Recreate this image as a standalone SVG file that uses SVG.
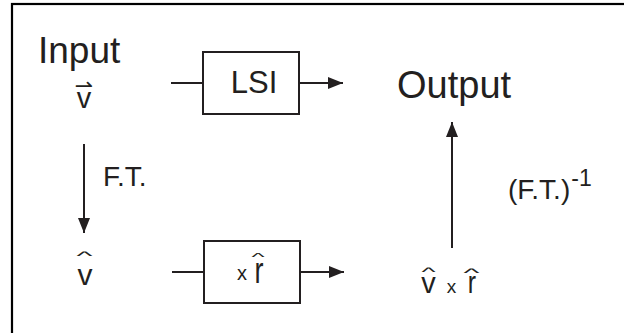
<svg xmlns="http://www.w3.org/2000/svg" width="624" height="333" viewBox="0 0 624 333">
  <style>
    .t { font-family: "Liberation Sans", Arial, Helvetica, sans-serif; fill: #231f20; }
    .box { fill: #ffffff; stroke: #231f20; stroke-width: 2; }
    .ln { stroke: #231f20; stroke-width: 2; fill: none; }
    .arr { stroke: #231f20; stroke-width: 2; fill: none; marker-end: url(#ah); }
  </style>
  <defs>
    <marker id="ah" markerUnits="userSpaceOnUse" markerWidth="16" markerHeight="12" refX="15" refY="6" orient="auto">
      <path d="M0,0 L15,6 L0,12 Z" fill="#231f20"/>
    </marker>
  </defs>
  <rect width="624" height="333" fill="#ffffff"/>
  <rect x="12" y="4" width="700" height="400" fill="none" stroke="#000000" stroke-width="2.2"/>

  <g id="input">
    <text class="t" x="38" y="63" font-size="37">Input</text>
    <text class="t" x="84" y="108" font-size="29" text-anchor="middle">v</text>
    <text x="84" y="93" font-size="22" text-anchor="middle" font-family="DejaVu Sans, sans-serif" fill="#231f20">⇀</text>
  </g>

  <g id="lsi">
    <rect class="box" x="203" y="52" width="96" height="62"/>
    <text class="t" x="254" y="93" font-size="31" text-anchor="middle">LSI</text>
  </g>

  <g id="output">
    <text class="t" x="397" y="98" font-size="38">Output</text>
  </g>

  <g id="vhat">
    <text class="t" x="85" y="285" font-size="30" text-anchor="middle">v</text>
    <text class="t" transform="translate(84.5,256) scale(1,0.4)" x="0" y="11" font-size="34" text-anchor="middle">^</text>
  </g>

  <g id="mult">
    <rect class="box" x="204" y="241" width="96" height="62"/>
    <text class="t" x="242" y="280" font-size="20" text-anchor="middle">x</text>
    <text class="t" transform="translate(259,283) scale(0.75,1)" x="0" y="0" font-size="36" text-anchor="middle">r</text>
    <text class="t" transform="translate(258,257) scale(1,0.4)" x="0" y="9" font-size="28" text-anchor="middle">^</text>
  </g>

  <g id="product">
    <text class="t" x="428.5" y="293" font-size="29" text-anchor="middle">v</text>
    <text class="t" transform="translate(428.5,271.5) scale(1,0.4)" x="0" y="10" font-size="30" text-anchor="middle">^</text>
    <text class="t" x="451.5" y="293" font-size="19" text-anchor="middle">x</text>
    <text class="t" transform="translate(472,293) scale(0.8,1)" x="0" y="0" font-size="31" text-anchor="middle">r</text>
    <text class="t" transform="translate(471.5,273) scale(1,0.4)" x="0" y="11" font-size="34" text-anchor="middle">^</text>
  </g>

  <g id="connectors">
    <line class="ln" x1="171" y1="83" x2="203" y2="83"/>
    <line class="arr" x1="299" y1="83" x2="343" y2="83"/>
    <line class="ln" x1="172" y1="272" x2="204" y2="272"/>
    <line class="arr" x1="300" y1="272" x2="344" y2="272"/>
    <line class="arr" x1="84" y1="144" x2="84" y2="233"/>
    <line class="arr" x1="452" y1="248" x2="452" y2="122"/>
    <text class="t" x="103" y="186" font-size="28">F.T.</text>
    <text class="t" x="508" y="199" font-size="28">(F.T.)<tspan font-size="23" dx="1" dy="-13">-1</tspan></text>
  </g>
</svg>
